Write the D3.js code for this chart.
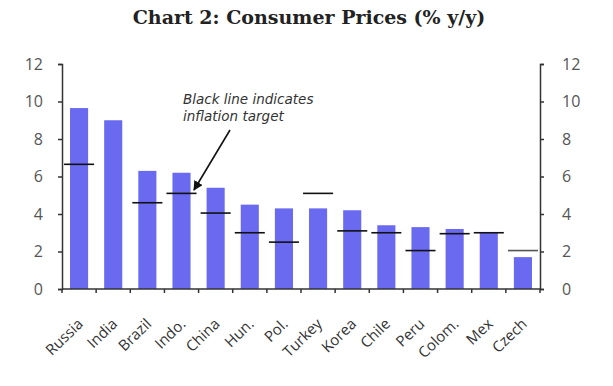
<!DOCTYPE html>
<html>
<head>
<meta charset="utf-8">
<script src="https://cdn.jsdelivr.net/npm/d3@7"></script>
<style>
  body { margin: 0; background: #fff; }
  text { font-family: "Open Sans", "Noto Sans", sans-serif; }
</style>
</head>
<body>
<svg id="chart" width="613" height="386"></svg>
<script>
// values
var countries = ['Russia', 'India', 'Brazil', 'Indo.', 'China', 'Hun.', 'Pol.', 'Turkey', 'Korea', 'Chile', 'Peru', 'Colom.', 'Mex', 'Czech'];
var cpi = [9.65, 9.0, 6.3, 6.2, 5.4, 4.5, 4.3, 4.3, 4.2, 3.4, 3.3, 3.2, 3.0, 1.7];
var targets = [6.65, null, 4.6, 5.1, 4.05, 3.0, 2.5, 5.1, 3.1, 3.0, 2.05, 2.95, 3.0, 2.05];
var yTicks = [0, 2, 4, 6, 8, 10, 12];

var svg = d3.select('#chart');
var plotLeft = 62, plotRight = 540, plotTop = 64, plotBottom = 289;

var x = d3.scaleBand().domain(countries).range([plotLeft, plotRight]).paddingInner(0.47).paddingOuter(0.235);
var xBand = d3.scaleBand().domain(countries).range([plotLeft, plotRight]);
var y = d3.scaleLinear().domain([0, 12]).range([plotBottom, plotTop]);

svg.append('text')
  .attr('x', 309)
  .attr('y', 24)
  .attr('text-anchor', 'middle')
  .style('font-family', '"DejaVu Serif", serif')
  .style('font-weight', 'bold')
  .style('font-size', '19px')
  .attr('fill', '#222')
  .text('Chart 2: Consumer Prices (% y/y)');

// bars
svg.selectAll('.bar')
  .data(countries)
  .enter()
  .append('rect')
  .classed('bar', true)
  .attr('x', function (d) { return x(d); })
  .attr('width', x.bandwidth())
  .attr('y', function (d, i) { return y(cpi[i]); })
  .attr('height', function (d, i) { return plotBottom - y(cpi[i]); })
  .attr('fill', '#6a6af0');

// inflation target markers
var tw = xBand.bandwidth() * 0.88;
svg.selectAll('.target')
  .data(countries.filter(function (d, i) { return targets[i] != null; }))
  .enter()
  .append('line')
  .classed('target', true)
  .attr('x1', function (d) { return xBand(d) + xBand.bandwidth() / 2 - tw / 2; })
  .attr('x2', function (d) { return xBand(d) + xBand.bandwidth() / 2 + tw / 2; })
  .attr('y1', function (d) { return y(targets[countries.indexOf(d)]); })
  .attr('y2', function (d) { return y(targets[countries.indexOf(d)]); })
  .attr('stroke', function (d) { return d === 'Czech' ? '#555' : '#111'; })
  .attr('stroke-width', 1.6);

// axes
var leftAxis = svg.append('g')
  .attr('transform', 'translate(' + plotLeft + ',0)')
  .call(d3.axisLeft(y).tickValues(yTicks).tickSize(4).tickPadding(15));
var rightAxis = svg.append('g')
  .attr('transform', 'translate(' + plotRight + ',0)')
  .call(d3.axisRight(y).tickValues(yTicks).tickSize(4).tickPadding(18));
[leftAxis, rightAxis].forEach(function (g) {
  g.select('.domain').attr('stroke', '#333').attr('stroke-width', 1.5);
  g.selectAll('.tick line').attr('stroke', '#333').attr('stroke-width', 1.5);
  g.selectAll('text').style('font-size', '16px').attr('fill', '#555')
    .style('font-family', '"Open Sans", sans-serif');
});

// bottom axis with ticks at category boundaries
var bx = svg.append('g');
bx.append('line')
  .attr('x1', plotLeft).attr('x2', plotRight)
  .attr('y1', plotBottom).attr('y2', plotBottom)
  .attr('stroke', '#333').attr('stroke-width', 1.5);
bx.selectAll('.btick')
  .data(countries.concat(['_end']))
  .enter()
  .append('line')
  .attr('x1', function (d, i) { return plotLeft + i * xBand.step(); })
  .attr('x2', function (d, i) { return plotLeft + i * xBand.step(); })
  .attr('y1', plotBottom).attr('y2', plotBottom + 4)
  .attr('stroke', '#333').attr('stroke-width', 1.5);

svg.selectAll('.clabel')
  .data(countries)
  .enter()
  .append('text')
  .attr('transform', function (d) {
    return 'translate(' + (xBand(d) + xBand.bandwidth() / 2 + 5) + ',' + (plotBottom + 36) + ') rotate(-44)';
  })
  .attr('text-anchor', 'end')
  .style('font-size', '15px')
  .attr('fill', '#333')
  .text(function (d) { return d; });

// annotation
var note = svg.append('text')
  .style('font-family', '"DejaVu Sans", sans-serif')
  .style('font-style', 'italic')
  .style('font-size', '13.5px')
  .attr('fill', '#333');
note.append('tspan').attr('x', 183).attr('y', 104).text('Black line indicates');
note.append('tspan').attr('x', 183).attr('y', 121).text('inflation target');

svg.append('defs').append('marker')
  .attr('id', 'arrow')
  .attr('viewBox', '0 0 10 10')
  .attr('refX', 9).attr('refY', 5)
  .attr('markerWidth', 6).attr('markerHeight', 6)
  .attr('orient', 'auto')
  .append('path')
  .attr('d', 'M0,0L10,5L0,10z')
  .attr('fill', '#111');
svg.append('line')
  .attr('x1', 230).attr('y1', 130)
  .attr('x2', 194).attr('y2', 190)
  .attr('stroke', '#111').attr('stroke-width', 1.6)
  .attr('marker-end', 'url(#arrow)');
</script>
</body>
</html>
